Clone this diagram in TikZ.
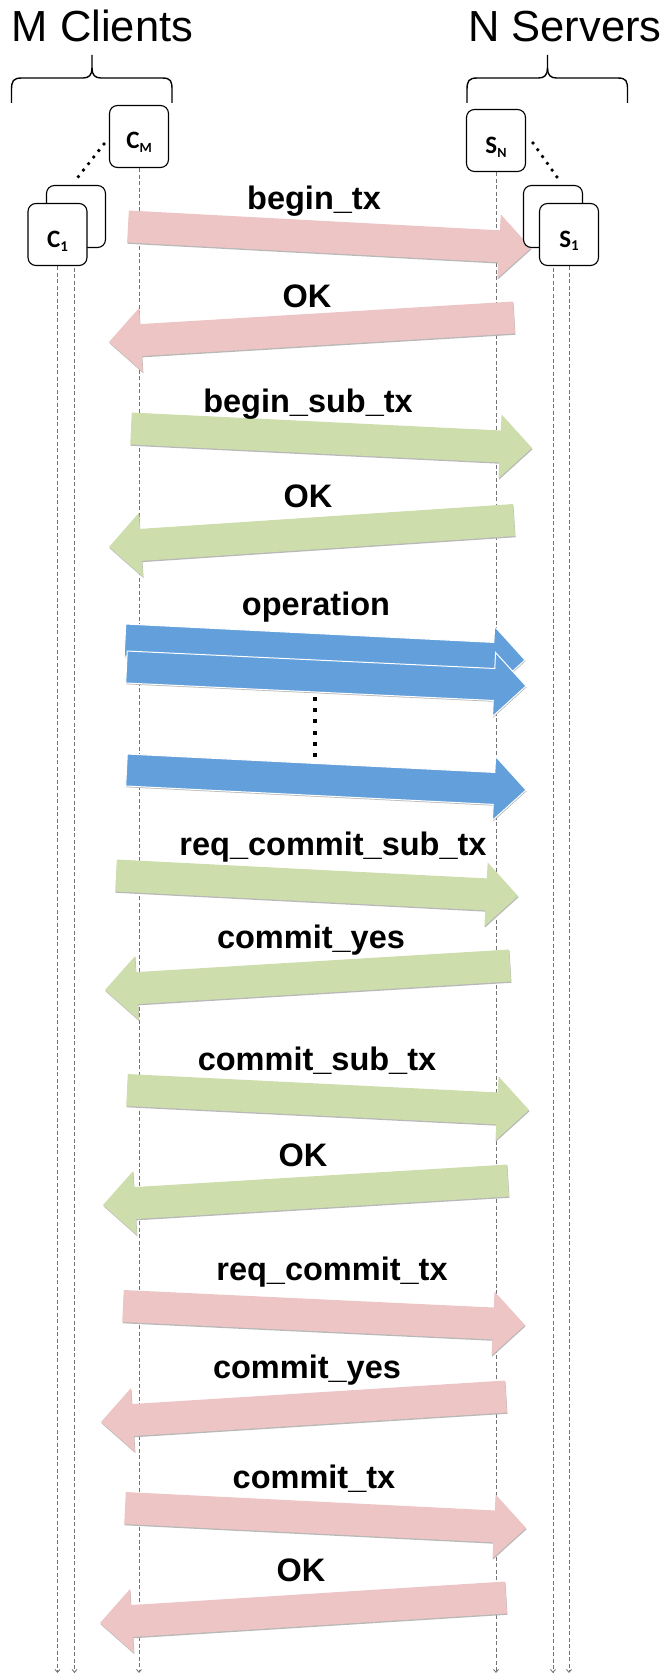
\documentclass[tikz,border=0pt]{standalone}
\usepackage{fontspec}
\setmainfont{Liberation Sans}
\newfontfamily\boxfont{Carlito}
\usetikzlibrary{calc,arrows.meta}
\definecolor{pinkA}{RGB}{236,197,196}
\definecolor{greenA}{RGB}{206,221,172}
\definecolor{blueA}{RGB}{99,160,219}
\definecolor{lifegray}{RGB}{115,115,115}
\newcommand\blockarr[3]{%
  \coordinate (#3-base) at ($(#3)!32pt!(#2)$);
  \begin{scope}[transform canvas={shift={(0.5pt,-1.3pt)}}]
    \path[arrshadow] ($(#2)!16pt!90:(#3)$) -- ($(#3-base)!16pt!90:(#3)$) -- ($(#3-base)!32pt!90:(#3)$) -- (#3) -- ($(#3-base)!32pt!-90:(#3)$) -- ($(#3-base)!16pt!-90:(#3)$) -- ($(#2)!16pt!-90:(#3)$) -- cycle;
  \end{scope}
  \path[#1] ($(#2)!16pt!90:(#3)$) -- ($(#3-base)!16pt!90:(#3)$) -- ($(#3-base)!32pt!90:(#3)$) -- (#3) -- ($(#3-base)!32pt!-90:(#3)$) -- ($(#3-base)!16pt!-90:(#3)$) -- ($(#2)!16pt!-90:(#3)$) -- cycle;
}
\begin{document}
\begin{tikzpicture}[x=1pt,y=-1pt,
  pinkarrow/.style={fill=pinkA},
  greenarrow/.style={fill=greenA},
  bluearrow/.style={fill=blueA,draw=white,line width=1pt},
  arrshadow/.style={fill=black!28},
  lifeline/.style={draw=lifegray,line width=0.85pt,dash pattern=on 4pt off 2.5pt,-{Straight Barb[length=3pt,width=5pt]}},
  pbox/.style={draw,fill=white,rounded corners=8pt,minimum width=59pt,minimum height=62pt,line width=1.1pt,inner sep=0pt},
  blbl/.style={font=\boxfont\bfseries\fontsize{25}{25}\selectfont,anchor=base,inner sep=0pt},
  lbl/.style={font=\fontsize{32.5}{34}\selectfont\bfseries,anchor=base,inner sep=0pt},
  title/.style={font=\fontsize{43.5}{45}\selectfont,anchor=base,inner sep=0pt},
  bracestyle/.style={draw,line width=1.4pt},
  rounddots/.style={draw,line width=3.8pt,line cap=round,dash pattern=on 0pt off 8.3pt},
  squaredots/.style={draw,line width=4.5pt,dash pattern=on 4pt off 7.2pt}]
\useasboundingbox (0,0) rectangle (666,1675);

% titles
\node[title] (tM) at (102.5,42) {M Clients};
\node[title] (tN) at (565,42) {N Servers};

% braces
\draw[bracestyle] (11.5,103) -- (11.5,90) .. controls (11.5,81) and (13,78) .. (22,78) -- (83,78) .. controls (89,78) and (92,75) .. (92,68) -- (92,55);
\draw[bracestyle] (92,68) .. controls (92,75) and (95,78) .. (101,78) -- (162,78) .. controls (171,78) and (172,81) .. (172,90) -- (172,103);
\begin{scope}[xshift=455.5pt]
\draw[bracestyle] (11.5,103) -- (11.5,90) .. controls (11.5,81) and (13,78) .. (22,78) -- (83,78) .. controls (89,78) and (92,75) .. (92,68) -- (92,55);
\draw[bracestyle] (92,68) .. controls (92,75) and (95,78) .. (101,78) -- (162,78) .. controls (171,78) and (172,81) .. (172,90) -- (172,103);
\end{scope}

% box positions (coordinates first, for lifelines)
\coordinate (bot) at (0,1673);
\node[pbox,draw=none,fill=none] (cM) at (139,136.5) {};
\node[pbox,draw=none,fill=none] (c1b) at (76,216.5) {};
\node[pbox,draw=none,fill=none] (c1) at (57.5,234.5) {};
\node[pbox,draw=none,fill=none] (sN) at (496,140.5) {};
\node[pbox,draw=none,fill=none] (s1b) at (553,216.5) {};
\node[pbox,draw=none,fill=none] (s1) at (569,234.5) {};

% lifelines
\draw[lifeline] (c1.south) -- (c1.south |- bot);
\draw[lifeline] ([xshift=-1.5pt]c1b.south) -- ([xshift=-1.5pt]c1b.south |- bot);
\draw[lifeline] (cM.south) -- (cM.south |- bot);
\draw[lifeline] (sN.south) -- (sN.south |- bot);
\draw[lifeline] (s1b.south) -- (s1b.south |- bot);
\draw[lifeline] (s1.south) -- (s1.south |- bot);

% arrow end points
\coordinate (t1) at (128,226.5);   \coordinate (p1) at (531,248);
\coordinate (t2) at (514,317.5);   \coordinate (p2) at (109,342);
\coordinate (t3) at (131,428.5);   \coordinate (p3) at (532,448);
\coordinate (t4) at (514,520);     \coordinate (p4) at (109,547);
\coordinate (t5) at (125,640);     \coordinate (p5) at (525,660);
\coordinate (t6) at (126.5,667);   \coordinate (p6) at (526,686);
\coordinate (t7) at (126.5,770);   \coordinate (p7) at (526,790);
\coordinate (t8) at (116,875.5);   \coordinate (p8) at (518,896);
\coordinate (t9) at (510,965.5);   \coordinate (p9) at (105,990);
\coordinate (t10) at (127,1090);   \coordinate (p10) at (529,1110);
\coordinate (t11) at (508,1180.5); \coordinate (p11) at (103,1205);
\coordinate (t12) at (123,1306);   \coordinate (p12) at (525,1325);
\coordinate (t13) at (506,1396.5); \coordinate (p13) at (101,1422);
\coordinate (t14) at (125,1508);   \coordinate (p14) at (526,1528);
\coordinate (t15) at (506,1597.5); \coordinate (p15) at (100,1623);

\blockarr{pinkarrow}{t1}{p1}
\blockarr{pinkarrow}{t2}{p2}
\blockarr{greenarrow}{t3}{p3}
\blockarr{greenarrow}{t4}{p4}
\blockarr{bluearrow}{t5}{p5}
\blockarr{bluearrow}{t6}{p6}
\blockarr{bluearrow}{t7}{p7}
\blockarr{greenarrow}{t8}{p8}
\blockarr{greenarrow}{t9}{p9}
\blockarr{greenarrow}{t10}{p10}
\blockarr{greenarrow}{t11}{p11}
\blockarr{pinkarrow}{t12}{p12}
\blockarr{pinkarrow}{t13}{p13}
\blockarr{pinkarrow}{t14}{p14}
\blockarr{pinkarrow}{t15}{p15}

% vertical dots between operations
\coordinate (vd1) at (315,697);
\coordinate (vd2) at (315,758);
\draw[squaredots] (vd1) -- (vd2);

% boxes
\node[pbox] (cMbox) at (cM) {};
\node[pbox] (c1bbox) at (c1b) {};
\node[pbox] (c1box) at (c1) {};
\node[pbox] (sNbox) at (sN) {};
\node[pbox] (s1bbox) at (s1b) {};
\node[pbox] (s1box) at (s1) {};

\node[blbl] (cMl) at ($(cM.center)+(0,12)$) {C\raisebox{-3.5pt}{\fontsize{14}{14}\selectfont M}};
\node[blbl] (c1l) at ($(c1.center)+(0,13)$) {C\raisebox{-3.5pt}{\fontsize{15}{15}\selectfont 1}};
\node[blbl] (sNl) at ($(sN.center)+(0,13)$) {S\raisebox{-3.5pt}{\fontsize{14}{14}\selectfont N}};
\node[blbl] (s1l) at ($(s1.center)+(0,12.5)$) {S\raisebox{-3.5pt}{\fontsize{15}{15}\selectfont 1}};

% dotted "..." between boxes
\coordinate (dl1) at (104,144); \coordinate (dl2) at (78,177);
\coordinate (dr1) at (533,143); \coordinate (dr2) at (557,177);
\draw[rounddots] (dl1) -- (dl2);
\draw[rounddots] (dr1) -- (dr2);

% message labels
\node[lbl] (l1) at (314,209) {begin\_tx};
\node[lbl] (l2) at (307,307) {OK};
\node[lbl] (l3) at (308,412.5) {begin\_sub\_tx};
\node[lbl] (l4) at (308,507) {OK};
\node[lbl] (l5) at (316,615) {operation};
\node[lbl] (l6) at (333,855) {req\_commit\_sub\_tx};
\node[lbl] (l7) at (311,948) {commit\_yes};
\node[lbl] (l8) at (317,1070) {commit\_sub\_tx};
\node[lbl] (l9) at (303,1166) {OK};
\node[lbl] (l10) at (332,1280) {req\_commit\_tx};
\node[lbl] (l11) at (307,1378) {commit\_yes};
\node[lbl] (l12) at (314,1488) {commit\_tx};
\node[lbl] (l13) at (301,1581) {OK};
\end{tikzpicture}
\end{document}
